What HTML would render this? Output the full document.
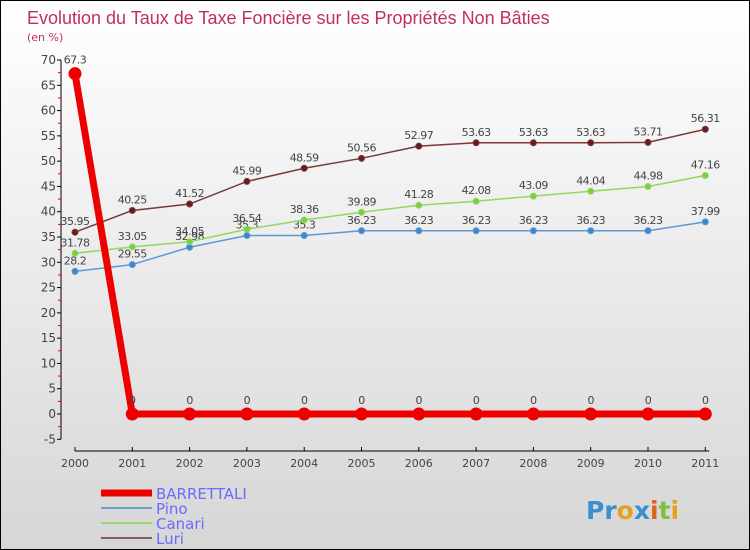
<!DOCTYPE html>
<html><head><meta charset="utf-8"><style>
body{margin:0}
#c{width:748px;height:548px;border:1px solid #000;background:linear-gradient(#ffffff,#d6d6d6);position:relative;font-family:"DejaVu Sans","Liberation Sans",sans-serif;overflow:hidden}
svg text{font-family:"DejaVu Sans","Liberation Sans",sans-serif}
</style></head><body>
<div id="c">
<svg id="s" width="748" height="548">
<text x="26" y="23" font-size="18" fill="#c0305a" style="font-family:'Liberation Sans',sans-serif">Evolution du Taux de Taxe Foncière sur les Propriétés Non Bâties</text>
<text x="26" y="40" font-size="11" fill="#c0305a">(en %)</text>
<text x="585" y="518" font-size="25" font-weight="bold" fill="#3a8fd0">Pr<tspan fill="#e8a020">o</tspan><tspan fill="#3a8fd0">x</tspan><tspan fill="#e06020">i</tspan><tspan fill="#80c040">t</tspan><tspan fill="#e8a020">i</tspan></text>
</svg>
</div>
<script>
const years=['2000','2001','2002','2003','2004','2005','2006','2007','2008','2009','2010','2011'];
const barrettali=[67.3,0,0,0,0,0,0,0,0,0,0,0];
const pino=[28.2,29.55,32.98,35.3,35.3,36.23,36.23,36.23,36.23,36.23,36.23,37.99];
const canari=[31.78,33.05,34.05,36.54,38.36,39.89,41.28,42.08,43.09,44.04,44.98,47.16];
const luri=[35.95,40.25,41.52,45.99,48.59,50.56,52.97,53.63,53.63,53.63,53.71,56.31];
const yTicks=[-5,0,5,10,15,20,25,30,35,40,45,50,55,60,65,70];
const NS='http://www.w3.org/2000/svg';
const s=document.getElementById('s');
const X=i=>74+i*57.3;
const Y=v=>413-v*5.057;
function el(t,a,p){const e=document.createElementNS(NS,t);for(const k in a)e.setAttribute(k,a[k]);(p||s).appendChild(e);return e;}
let ax=el('line',{x1:60,y1:Y(-5),x2:60,y2:Y(70),stroke:'#000'});


yTicks.forEach(v=>{
 let t=el('line',{x1:56,x2:60,y1:Y(v),y2:Y(v),stroke:'#000'});
 
 
 let m=el('line',{x1:57,x2:60,y1:Y(v+2.5),y2:Y(v+2.5),stroke:'#e00'});
 if(v==70)m.remove();
 let tx=el('text',{x:55,y:Y(v)+4,'font-size':12,fill:'#444','text-anchor':'end'});tx.textContent=v;
 
 
});
let xa=el('line',{x1:X(0),y1:450,x2:X(11)+4,y2:450,stroke:'#000'});


years.forEach((y,i)=>{
 el('line',{x1:X(i),x2:X(i),y1:446,y2:450,stroke:'#000'});
 let tx=el('text',{x:X(i),y:466,'font-size':11,fill:'#444','text-anchor':'middle'});tx.textContent=y;
 
 
});
function series(vals,color,w,r,name,fill){
 const g=el('g',{});
 
 
 el('polyline',{points:vals.map((v,i)=>X(i)+','+Y(v)).join(' '),fill:'none',stroke:color,'stroke-width':w},g);
 vals.forEach((v,i)=>{
  let c=el('circle',{cx:X(i),cy:Y(v),r:r,fill:fill,stroke:color},g);
  
  
  let t=el('text',{x:X(i),y:Y(v)-(r+4),'font-size':11,fill:'#444','text-anchor':'middle','letter-spacing':'-0.5'},g);
  t.textContent=String(v);
  
  
 });
}
series(pino,'#5a9ad0',1.5,3,'pino','#3c88cc');
series(canari,'#90d860',1.5,3,'canari','#7ccf3c');
series(luri,'#7a3a3a',1.5,3,'luri','#6a1a1a');
series(barrettali,'#ee0000',7,6,'barrettali','#ee0000');
const leg=[['BARRETTALI','#ee0000',7],['Pino','#6aa0d0',2],['Canari','#98d870',2],['Luri','#8a5a5a',2]];
leg.forEach((l,i)=>{
 const y=492+i*15;
 const g=el('g',{});
 
 
 el('line',{x1:100,x2:151,y1:y,y2:y,stroke:l[1],'stroke-width':l[2]},g);
 let t=el('text',{x:155,y:y+6,'font-size':15,fill:'#6a6aff'},g);t.textContent=l[0];
});
</script>
</body></html>
